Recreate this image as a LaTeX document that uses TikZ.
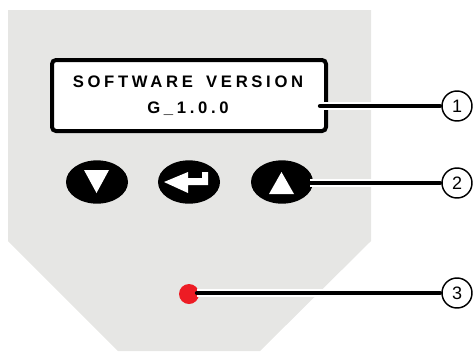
\documentclass[tikz,border=0pt]{standalone}
\usepackage{fontspec}
\setmainfont{Liberation Sans}
\newfontfamily\lcdfont[LetterSpace=22,WordSpace=1.6]{Liberation Sans}
\usetikzlibrary{shapes.geometric}
\definecolor{panelgray}{HTML}{E6E6E4}
\definecolor{ledred}{HTML}{ED1C24}
\tikzset{
  key/.style={ellipse, fill=black, inner sep=0pt, minimum width=46.5pt, minimum height=32.5pt},
  callout/.style={circle, draw, fill=white, line width=1.1pt, inner sep=0pt, minimum size=22.5pt, font=\fontsize{13.5}{14}\selectfont},
  leader/.style={draw=black, line width=3.2pt, line cap=round, shorten >=1pt, preaction={draw=white, line width=6.6pt}},
  lcdtext/.style={anchor=base, inner sep=0pt, font=\lcdfont\fontsize{12.5}{14}\bfseries\selectfont}
}
\begin{document}
\begin{tikzpicture}[x=.75pt, y=-.75pt]
\useasboundingbox (0,0) rectangle (474,351);
\fill[panelgray] (8,10) -- (371,10) -- (371,241) -- (260,351) -- (118,351) -- (8,241) -- cycle;
% display
\draw[fill=white, line width=3pt, rounded corners=3pt] (52,60) rectangle (326,131);
\node[lcdtext] (title) at (188,87) {SOFTWARE VERSION};
\node[lcdtext] (version) at (188,113) {G\_1.0.0};
% keys
\node[key] (down) at (97,182) {};
\node[key] (enter) at (189,182) {};
\node[key] (up) at (282,182) {};
\fill[white] (84,170) -- (109,170) -- (96.5,193) -- cycle;
\fill[white] (164,182) -- (188,172) -- (188,178) -- (202,178) -- (202,172) -- (208,172) -- (208,185) -- (188,185) -- (188,193) -- cycle;
\fill[white] (269,194) -- (294,194) -- (281.5,172) -- cycle;
% led
\node[circle, fill=ledred, inner sep=0pt, minimum size=15pt] (led) at (189,294) {};
% callouts
\node[callout] (1) at (457,106) {1};
\node[callout] (2) at (457,183) {2};
\node[callout] (3) at (457,293) {3};
\coordinate (lcd end) at (320,106);
\coordinate (key end) at (310,183);
\coordinate (led end) at (197,293);
\draw[leader] (lcd end) -- (1);
\draw[leader] (key end) -- (2);
\draw[leader] (led end) -- (3);
\end{tikzpicture}
\end{document}
